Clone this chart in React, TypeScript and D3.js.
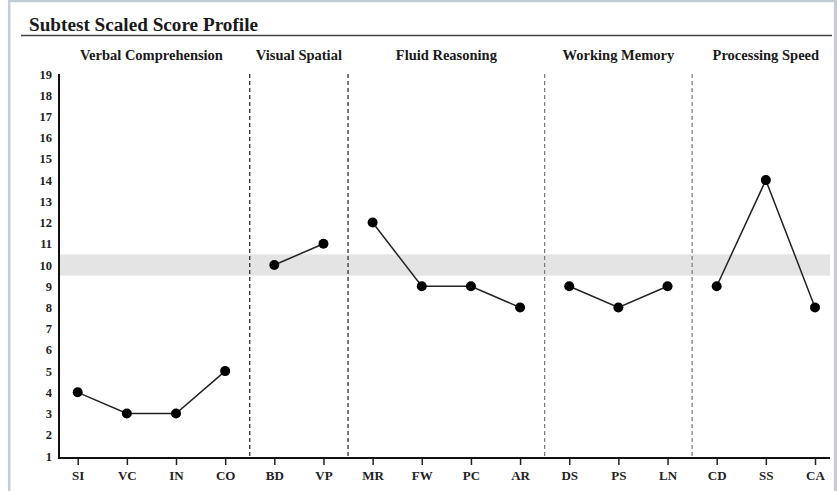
import React, { useRef, useEffect } from "react";
import * as d3 from "d3";

// subtest abbreviations, in order along the x axis
const categories = ["SI", "VC", "IN", "CO", "BD", "VP", "MR", "FW", "PC", "AR", "DS", "PS", "LN", "CD", "SS", "CA"];
// scaled scores
const scores = [4, 3, 3, 5, 10, 11, 12, 9, 9, 8, 9, 8, 9, 9, 14, 8];
// index groups and how many subtests each holds
const groupNames = ["Verbal Comprehension", "Visual Spatial", "Fluid Reasoning", "Working Memory", "Processing Speed"];
const groupSizes = [4, 2, 4, 3, 3];
// dashed dividers: first two darker than the others
const dividerColors = ["#222", "#222", "#777", "#777"];
const yTicks = [1, 2, 3, 4, 5, 6, 7, 8, 9, 10, 11, 12, 13, 14, 15, 16, 17, 18, 19];
const averageBand = [9.5, 10.5];

const FONT = "Liberation Serif";

const ScoreProfile: React.FC = () => {
  const ref = useRef<SVGSVGElement | null>(null);

  useEffect(() => {
    if (!ref.current) return;
    const svg = d3.select(ref.current);
    svg.selectAll("*").remove();

    const width = 837;
    const height = 491;
    const plot = { left: 59, right: 830, top: 74, bottom: 458 };

    svg.attr("width", width).attr("height", height).attr("font-family", FONT);

    // page frame
    svg.append("rect").attr("width", width).attr("height", height).attr("fill", "#fff");
    const frame = "#c4cdd7";
    svg.append("line").attr("x1", 8).attr("x2", width).attr("y1", 1).attr("y2", 1).attr("stroke", frame).attr("stroke-width", 2.5);
    svg.append("line").attr("x1", 9.2).attr("x2", 9.2).attr("y1", 0).attr("y2", height).attr("stroke", frame).attr("stroke-width", 2.5);
    svg.append("line").attr("x1", 835.5).attr("x2", 835.5).attr("y1", 0).attr("y2", height).attr("stroke", frame).attr("stroke-width", 3);

    // title
    svg.append("text").attr("x", 29).attr("y", 31).text("Subtest Scaled Score Profile")
      .attr("font-family", FONT).attr("font-size", 19.2).attr("font-weight", "bold").attr("fill", "#1a1a1a");
    svg.append("line").attr("x1", 21).attr("x2", 832).attr("y1", 35.5).attr("y2", 35.5).attr("stroke", "#444").attr("stroke-width", 1.5);

    const x = d3.scalePoint<string>().domain(categories).range([77.7, 815]);
    const y = d3.scaleLinear().domain([1, 19]).range([456, 74]);

    // average band
    svg.append("rect")
      .attr("x", plot.left).attr("width", plot.right - plot.left)
      .attr("y", y(averageBand[1])).attr("height", y(averageBand[0]) - y(averageBand[1]))
      .attr("fill", "#e4e4e4");

    // y axis labels
    const yAxis = svg.append("g").attr("transform", `translate(${plot.left},0)`)
      .call(d3.axisLeft(y).tickValues(yTicks).tickSize(0).tickPadding(7).tickFormat(d3.format("d")));
    yAxis.attr("font-family", FONT).attr("font-size", 12.5);
    yAxis.select(".domain").remove();
    yAxis.selectAll("text").attr("font-weight", "bold").attr("fill", "#222");

    // x axis
    const xAxis = svg.append("g").attr("transform", `translate(0,${plot.bottom})`)
      .call(d3.axisBottom(x).tickSize(7).tickPadding(6));
    xAxis.attr("font-family", FONT).attr("font-size", 13);
    xAxis.select(".domain").remove();
    xAxis.selectAll("line").attr("stroke", "#222").attr("stroke-width", 1.5);
    xAxis.selectAll("text").attr("font-weight", "bold").attr("fill", "#222");

    // groups: headers, dividers, lines and points
    const step = x.step();
    let start = 0;
    groupSizes.forEach((size, g) => {
      const cats = categories.slice(start, start + size);
      const vals = scores.slice(start, start + size);
      const first = x(cats[0])!;
      const last = x(cats[size - 1])!;

      svg.append("text").attr("x", (first + last) / 2).attr("y", 60)
        .attr("text-anchor", "middle").text(groupNames[g])
        .attr("font-family", FONT).attr("font-size", 14.5).attr("font-weight", "bold").attr("fill", "#1a1a1a");

      if (g < groupSizes.length - 1) {
        const dx = last + step / 2;
        svg.append("line").attr("x1", dx).attr("x2", dx).attr("y1", plot.top).attr("y2", plot.bottom)
          .attr("stroke", dividerColors[g]).attr("stroke-width", 1.2).attr("stroke-dasharray", "4,3");
      }

      const line = d3.line<number>().x((_, i) => x(cats[i])!).y((d) => y(d));
      svg.append("path").datum(vals).attr("d", line).attr("fill", "none")
        .attr("stroke", "#222").attr("stroke-width", 1.5);

      svg.selectAll(null).data(vals).enter().append("circle")
        .attr("cx", (_, i) => x(cats[i])!).attr("cy", (d) => y(d)).attr("r", 5).attr("fill", "#000");

      start += size;
    });

    // axis lines
    svg.append("line").attr("x1", plot.left).attr("x2", plot.left).attr("y1", plot.top).attr("y2", plot.bottom + 1)
      .attr("stroke", "#111").attr("stroke-width", 2);
    svg.append("line").attr("x1", plot.left).attr("x2", plot.right).attr("y1", plot.bottom).attr("y2", plot.bottom)
      .attr("stroke", "#111").attr("stroke-width", 2);
  }, []);

  return <svg ref={ref} style={{ position: "absolute", left: 0, top: 0, display: "block" }}></svg>;
};

export default function App() {
  return <ScoreProfile />;
}
